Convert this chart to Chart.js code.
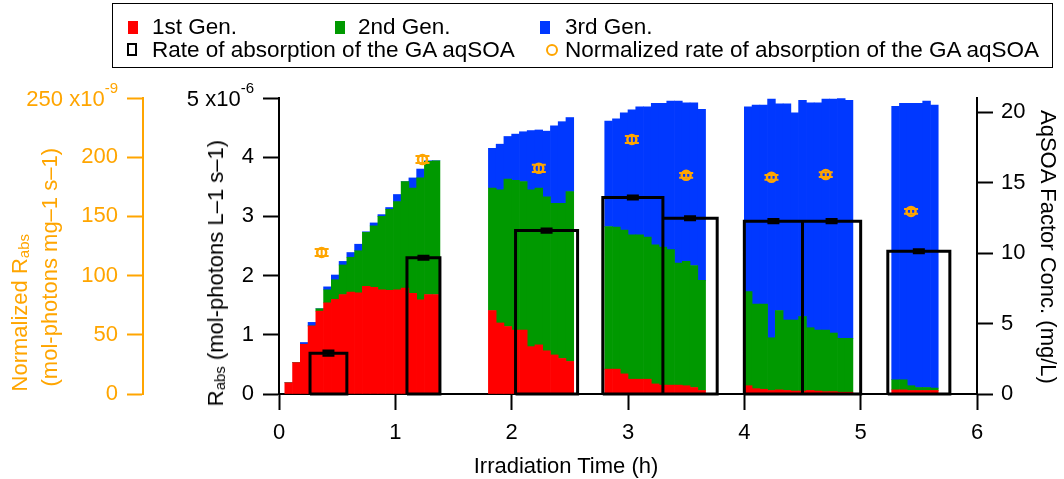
<!DOCTYPE html>
<html>
<head>
<meta charset="utf-8">
<title>Rate of absorption of the GA aqSOA</title>
<script src="https://cdn.jsdelivr.net/npm/chart.js@4/dist/chart.umd.min.js"></script>
<style>
  body { margin: 0; background: #fff; font-family: "Liberation Sans", Arial, sans-serif; }
  #wrap { position: relative; width: 1064px; height: 479px; overflow: hidden; }
  #chart { position: absolute; left: 0; top: 0; }
  .txt { position: absolute; font-size: 22px; line-height: 22px; white-space: nowrap; color: #000; }
  .leg { font-size: 22.5px; }
  .vt { position: absolute; font-size: 22px; line-height: 26px; white-space: nowrap; writing-mode: vertical-rl; }
  .up { transform: rotate(180deg); }
  sub { font-size: 15px; vertical-align: -4px; line-height: 0; }
  #legend { position: absolute; left: 112px; top: 3px; width: 941px; height: 65px; border: 1.5px solid #000; box-sizing: border-box; }
  .sq { position: absolute; width: 10px; height: 13px; }
</style>
</head>
<body>
<div id="wrap">
  <canvas id="chart" width="1064" height="479"></canvas>

  <div id="legend"></div>
  <div class="sq" style="left:128px; top:21px; background:#ff0000"></div>
  <div class="txt leg" style="left:152px; top:16px">1st Gen.</div>
  <div class="sq" style="left:335px; top:21px; background:#009900"></div>
  <div class="txt leg" style="left:358px; top:16px">2nd Gen.</div>
  <div class="sq" style="left:540px; top:21px; background:#0038ff"></div>
  <div class="txt leg" style="left:565px; top:16px">3rd Gen.</div>
  <div class="sq" style="left:127px; top:43px; border:2.5px solid #000; width:6px; height:9px"></div>
  <div class="txt leg" style="left:152px; top:39px">Rate of absorption of the GA aqSOA</div>
  <div class="sq" style="left:546px; top:44px; width:8px; height:8px; border:2.5px solid #ffa500; border-radius:50%"></div>
  <div class="txt leg" style="left:565px; top:39px">Normalized rate of absorption of the GA aqSOA</div>

  <div class="vt up" style="left:7px; bottom:88px; color:#ffa500">Normalized R<sub>abs</sub></div>
  <div class="vt up" style="left:37px; bottom:93px; color:#ffa500">(mol-photons mg–1 s–1)</div>
  <div class="vt up" style="left:203px; bottom:73px">R<sub>abs</sub> (mol-photons L–1 s–1)</div>
  <div class="vt" style="left:1035px; top:110px">AqSOA Factor Conc. (mg/L)</div>
  <div class="txt" style="left:566px; top:455px; transform:translateX(-50%)">Irradiation Time (h)</div>
</div>

<script>
// bin centres, minutes of irradiation (4 min bins)
const binTimes = [
  5, 9, 13, 17, 21, 25, 29, 33, 37, 41, 45, 49, 53, 57, 61, 65, 69, 73, 77, 81,
  110, 114, 118, 122, 126, 130, 134, 138, 142, 146, 150,
  170, 174, 178, 182, 186, 190, 194, 198, 202, 206, 210, 214, 218,
  242, 246, 250, 254, 258, 262, 266, 270, 274, 278, 282, 286, 290, 294,
  318, 322, 326, 330, 334, 338
];

// R_abs per generation, x10^-6 mol-photons L-1 s-1
const gen1 = [
  0.19, 0.53, 0.84, 1.15, 1.40, 1.54, 1.60, 1.68, 1.72, 1.71, 1.82, 1.80, 1.76, 1.75, 1.76, 1.79, 1.70, 1.59, 1.68, 1.68,
  1.41, 1.20, 1.14, 1.08, 1.08, 0.80, 0.83, 0.73, 0.66, 0.60, 0.55,
  0.42, 0.42, 0.34, 0.25, 0.25, 0.25, 0.17, 0.15, 0.15, 0.15, 0.14, 0.11, 0.06,
  0.14, 0.09, 0.08, 0.06, 0.07, 0.06, 0.05, 0.05, 0.06, 0.05, 0.04, 0.04, 0.03, 0.03,
  0.07, 0.07, 0.06, 0.06, 0.06, 0.06
];
const gen2 = [
  0, 0, 0, 0, 0.04, 0.22, 0.33, 0.50, 0.59, 0.71, 0.91, 1.04, 1.24, 1.37, 1.49, 1.80, 1.78, 2.06, 2.25, 2.26,
  2.07, 2.25, 2.49, 2.53, 2.51, 2.65, 2.65, 2.60, 2.56, 2.62, 2.87,
  2.41, 2.40, 2.43, 2.44, 2.44, 2.40, 2.35, 2.33, 2.29, 2.06, 2.10, 2.06, 1.86,
  1.59, 1.43, 1.44, 0.89, 1.34, 1.19, 1.20, 1.26, 1.06, 1.03, 1.04, 0.99, 0.91, 0.91,
  0.17, 0.17, 0.08, 0.05, 0.05, 0.04
];
const gen3 = [
  0, 0, 0.03, 0.06, 0, 0.05, 0.08, 0.06, 0.08, 0.11, 0.01, 0.05, 0.03, 0.03, 0.12, 0, 0.17, 0.15, 0.01, 0,
  0.67, 0.77, 0.72, 0.78, 0.84, 1.00, 0.98, 1.11, 1.31, 1.38, 1.25,
  1.78, 1.83, 1.98, 2.11, 2.16, 2.20, 2.39, 2.43, 2.51, 2.74, 2.68, 2.75, 2.89,
  3.12, 3.36, 3.36, 4.03, 3.49, 3.65, 3.50, 3.65, 3.80, 3.84, 3.90, 3.95, 4.05, 4.02,
  4.62, 4.67, 4.77, 4.80, 4.84, 4.78
];

// rate of absorption of the GA aqSOA (boxes)
const boxStart = [16, 66, 122, 167, 198, 240, 270, 314];
const boxEnd = [35, 83, 154, 198, 226, 270, 300, 346];
const boxRate = [0.69, 2.30, 2.76, 3.32, 2.97, 2.92, 2.92, 2.41];
const boxErr = [0.04, 0.03, 0.03, 0.03, 0.03, 0.03, 0.03, 0.03];

// normalized rate, x10^-9 mol-photons mg-1 s-1
const normTime = [22, 74, 134, 182, 210, 254, 282, 326];
const normRate = [119.5, 198, 190.6, 214.9, 184.7, 183, 185.3, 154.2];
const normErr = [3, 3, 3, 3, 2, 2, 2, 2];

const xTicks = [0, 1, 2, 3, 4, 5, 6];

const RED = '#ff0000';
const GREEN = '#009900';
const BLUE = '#0038ff';
const ORANGE = '#ffa500';
const FONT = '"Liberation Sans", Arial, sans-serif';

Chart.defaults.font.family = FONT;
Chart.defaults.font.size = 22;
Chart.defaults.color = '#000';

function toPoints(vals) {
  return binTimes.map((t, i) => ({ x: t, y: vals[i] }));
}

// outline of every box, broken by a null between boxes
const boxPoints = [];
boxStart.forEach((s, i) => {
  const e = boxEnd[i];
  boxPoints.push({ x: s, y: 0 }, { x: s, y: boxRate[i] }, { x: e, y: boxRate[i] },
    { x: e, y: 0 }, { x: s, y: 0 }, { x: e, y: null });
});

// small error bars with caps, drawn through the scales
const errorBars = {
  id: 'errorBars',
  afterDatasetsDraw(chart) {
    const ctx = chart.ctx;
    const xs = chart.scales.x;
    const draw = (ys, xv, yv, ev, cap, color, lw) => {
      ctx.save();
      ctx.strokeStyle = color;
      ctx.lineWidth = lw;
      xv.forEach((x, i) => {
        const px = xs.getPixelForValue(x);
        const top = ys.getPixelForValue(yv[i] + ev[i]);
        const bot = ys.getPixelForValue(yv[i] - ev[i]);
        ctx.beginPath();
        ctx.moveTo(px, top); ctx.lineTo(px, bot);
        ctx.moveTo(px - cap / 2, top); ctx.lineTo(px + cap / 2, top);
        ctx.moveTo(px - cap / 2, bot); ctx.lineTo(px + cap / 2, bot);
        ctx.stroke();
      });
      ctx.restore();
    };
    const mids = boxStart.map((s, i) => (s + boxEnd[i]) / 2);
    draw(chart.scales.yBox, mids, boxRate, boxErr, 12, '#000', 2.5);
    draw(chart.scales.yN, normTime, normRate, normErr, 14, ORANGE, 2);
  }
};

// "5 x10-6" style labels on top of the left axes
const exponentLabels = {
  id: 'exponentLabels',
  afterDraw(chart) {
    const ctx = chart.ctx;
    [['y', '5 x10', '-6', '#000'], ['yN', '250 x10', '-9', ORANGE]].forEach(([id, base, sup, col]) => {
      const s = chart.scales[id];
      const x = s.right - s.options.grid.tickLength - s.options.ticks.padding;
      const y = s.getPixelForValue(s.max);
      ctx.save();
      ctx.fillStyle = col;
      ctx.textAlign = 'right';
      ctx.textBaseline = 'middle';
      ctx.font = '15px ' + FONT;
      ctx.fillText(sup, x, y - 9);
      const w = ctx.measureText(sup).width;
      ctx.font = '22px ' + FONT;
      ctx.fillText(base, x - w, y + 2);
      ctx.restore();
    });
  }
};

function axisStyle(color, tickLen) {
  return {
    grid: { drawOnChartArea: false, offset: false, tickLength: tickLen, tickWidth: 2, tickColor: color },
    border: { display: true, color: color, width: 2 }
  };
}

new Chart(document.getElementById('chart'), {
  type: 'bar',
  data: {
    datasets: [
      { label: '1st Gen.', data: toPoints(gen1), backgroundColor: RED, yAxisID: 'y', order: 3 },
      { label: '2nd Gen.', data: toPoints(gen2), backgroundColor: GREEN, yAxisID: 'y', order: 3 },
      { label: '3rd Gen.', data: toPoints(gen3), backgroundColor: BLUE, yAxisID: 'y', order: 3 },
      {
        type: 'line', label: 'Rate of absorption of the GA aqSOA', data: boxPoints, yAxisID: 'yBox',
        borderColor: '#000', borderWidth: 3, pointRadius: 0, spanGaps: false,
        borderJoinStyle: 'miter', tension: 0, clip: 6, order: 1
      },
      {
        type: 'line', label: 'Normalized rate of absorption of the GA aqSOA',
        data: normTime.map((t, i) => ({ x: t, y: normRate[i] })), yAxisID: 'yN',
        showLine: false, pointStyle: 'circle', pointRadius: 4.5, pointBorderWidth: 2.5,
        pointBorderColor: ORANGE, pointBackgroundColor: 'rgba(0,0,0,0)', order: 0
      }
    ]
  },
  options: {
    responsive: false,
    animation: false,
    events: [],
    barPercentage: 1,
    categoryPercentage: 1,
    layout: { padding: { top: 98, left: 0, right: 0, bottom: 0 } },
    plugins: { legend: { display: false }, tooltip: { enabled: false } },
    scales: {
      x: {
        type: 'linear', min: 0, max: 360, offset: false, stacked: true,
        afterBuildTicks: s => { s.ticks = xTicks.map(h => ({ value: h * 60 })); },
        ticks: { callback: v => v / 60, padding: 10, maxRotation: 0, autoSkip: false },
        ...axisStyle('#000', 16),
        afterFit: s => { s.height = 85; }
      },
      yN: {
        position: 'left', min: 0, max: 250, weight: 2,
        ticks: { stepSize: 50, color: ORANGE, padding: 9, callback: v => (v === 250 ? '' : v) },
        ...axisStyle(ORANGE, 16),
        afterFit: s => { s.width = 143; }
      },
      y: {
        position: 'left', stacked: true, min: 0, max: 5, weight: 1,
        ticks: { stepSize: 1, padding: 9, callback: v => (v === 5 ? '' : v) },
        ...axisStyle('#000', 16),
        afterFit: s => { s.width = 136; }
      },
      yR: {
        position: 'right', min: 0, max: 21,
        ticks: { stepSize: 5, padding: 8, includeBounds: false },
        ...axisStyle('#000', 16),
        afterFit: s => { s.width = 87; }
      },
      yBox: { display: false, min: 0, max: 5 }
    }
  },
  plugins: [errorBars, exponentLabels]
});
</script>
</body>
</html>
